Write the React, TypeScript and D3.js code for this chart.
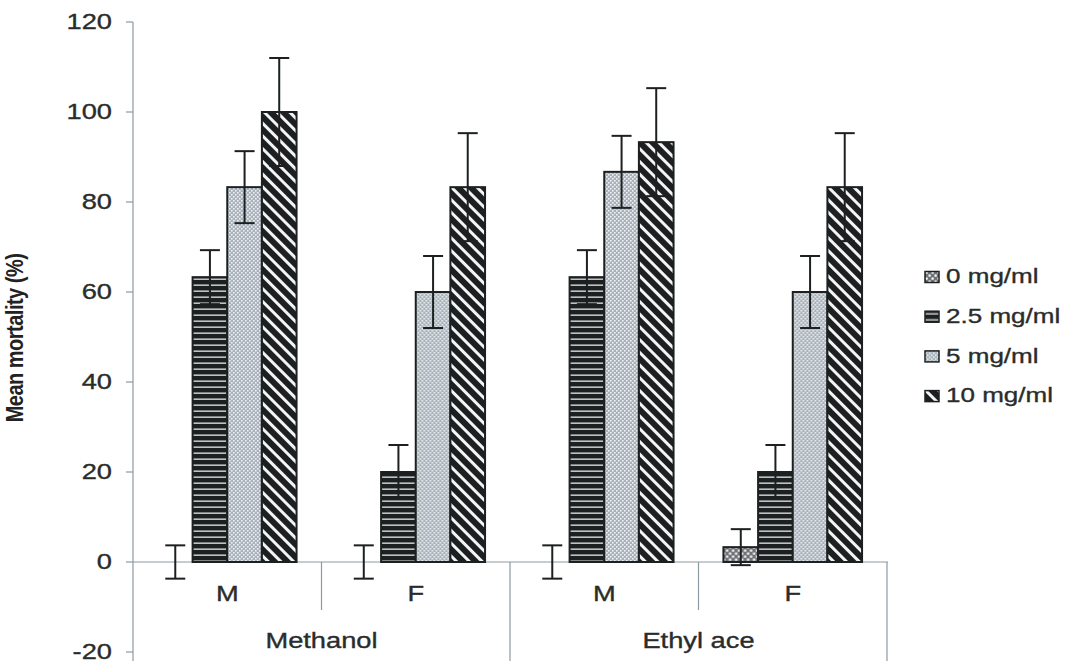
import React from "react";
import * as d3 from "d3";

// categories along the x axis
const categories = ["MeM", "MeF", "EaM", "EaF"];
const sexLabels = ["M", "F", "M", "F"];
const groupLabels = ["Methanol", "Ethyl ace"];
const series = ["0 mg/ml", "2.5 mg/ml", "5 mg/ml", "10 mg/ml"];

// mean mortality (%) per category, one value per series
const meansMeM = [0, 63.3, 83.3, 100];
const meansMeF = [0, 20, 60, 83.3];
const meansEaM = [0, 63.3, 86.7, 93.3];
const meansEaF = [3.3, 20, 60, 83.3];

// error (+/-) per category
const errMeM = [3.7, 6, 8, 12];
const errMeF = [3.7, 6, 8, 12];
const errEaM = [3.7, 6, 8, 12];
const errEaF = [4, 6, 8, 12];

const yTicks = [-20, 0, 20, 40, 60, 80, 100, 120];

const means = [meansMeM, meansMeF, meansEaM, meansEaF];
const errs = [errMeM, errMeF, errEaM, errEaF];

const fills = ["url(#p0)", "url(#p25)", "url(#p5)", "url(#p10)"];

const font = "'Liberation Sans', Arial, sans-serif";
const stretch = 1.24; // the scanned figure is wider than tall

function T({ x, y, anchor = "middle", size = 22, children }: any) {
  return (
    <text
      transform={`translate(${x},${y}) scale(${stretch},1)`}
      dy="0.35em"
      textAnchor={anchor}
      fontFamily={font}
      fontSize={size}
      fill="#2a2c2c"
      stroke="#2a2c2c"
      strokeWidth={0.35}
    >
      {children}
    </text>
  );
}

export default function App() {
  const width = 1091;
  const height = 661;

  const y = d3.scaleLinear().domain([-20, 120]).range([652, 22]);
  const x0 = d3.scaleBand().domain(categories).range([133, 887]).padding(0);
  const x1 = d3
    .scaleBand()
    .domain(series)
    .range([0, x0.bandwidth()])
    .paddingInner(0)
    .paddingOuter(0.72);

  const axisColor = "#8e9aa2";
  const ink = "#1c2020";

  return (
    <div style={{ position: "absolute", left: 0, top: 0 }}>
      <svg width={width} height={height} style={{ display: "block", background: "#fff" }}>
        <defs>
          <pattern id="p0" width="6" height="6" patternUnits="userSpaceOnUse">
            <rect width="6" height="6" fill="#6f7377" />
            <rect x="0.5" y="0.5" width="2.2" height="2.2" fill="#fff" />
            <rect x="3.5" y="3.5" width="2.2" height="2.2" fill="#fff" />
          </pattern>
          <pattern id="p25" width="6" height="6" patternUnits="userSpaceOnUse">
            <rect width="6" height="6" fill={ink} />
            <rect x="0" y="2.5" width="6" height="1.3" fill="#e4e8ea" />
          </pattern>
          <pattern id="p5" width="4" height="4" patternUnits="userSpaceOnUse">
            <rect width="4" height="4" fill="#a9b2ba" />
            <rect x="0" y="0" width="1.6" height="1.6" fill="#eef1f3" />
            <rect x="2" y="2" width="1.6" height="1.6" fill="#eef1f3" />
          </pattern>
          <pattern
            id="p10"
            width="9"
            height="9"
            patternUnits="userSpaceOnUse"
            patternTransform="rotate(45)"
          >
            <rect width="9" height="9" fill={ink} />
            <rect x="0" y="3" width="9" height="3" fill="#f2f4f5" />
          </pattern>
        </defs>

        {/* y axis */}
        <line x1={133} x2={133} y1={22} y2={661} stroke={axisColor} strokeWidth={1.2} />
        {yTicks.map((t) => (
          <g key={t}>
            <line x1={126} x2={133} y1={y(t)} y2={y(t)} stroke={axisColor} strokeWidth={1.2} />
            <T x={112} y={y(t) - 1} anchor="end">
              {t}
            </T>
          </g>
        ))}

        <text
          transform={`translate(23,338) scale(${stretch},1) rotate(-90)`}
          textAnchor="middle"
          fontFamily={font}
          fontWeight="bold"
          fontSize={20}
          letterSpacing={-0.5}
          fill="#222"
        >
          Mean mortality (%)
        </text>

        {/* zero line and category separators */}
        <line x1={133} x2={888} y1={y(0)} y2={y(0)} stroke={axisColor} strokeWidth={1.2} />
        {categories.map((c, i) => {
          const xr = (x0(c) as number) + x0.bandwidth();
          const outer = i % 2 === 1;
          return (
            <line
              key={c}
              x1={xr}
              x2={xr}
              y1={y(0)}
              y2={outer ? 661 : 610}
              stroke={axisColor}
              strokeWidth={1.2}
            />
          );
        })}

        {/* bars */}
        {categories.map((c, ci) => (
          <g key={c} transform={`translate(${x0(c)},0)`}>
            {series.map((s, si) => {
              const v = means[ci][si];
              if (v <= 0) return null;
              return (
                <rect
                  key={s}
                  x={x1(s)}
                  y={y(v)}
                  width={x1.bandwidth()}
                  height={y(0) - y(v)}
                  fill={fills[si]}
                  stroke={ink}
                  strokeWidth={2}
                />
              );
            })}
            {series.map((s, si) => {
              const v = means[ci][si];
              const e = errs[ci][si];
              const cx = (x1(s) as number) + x1.bandwidth() / 2;
              return (
                <g key={s} stroke={ink} strokeWidth={2}>
                  <line x1={cx} x2={cx} y1={y(v + e)} y2={y(v - e)} />
                  <line x1={cx - 10} x2={cx + 10} y1={y(v + e)} y2={y(v + e)} />
                  <line x1={cx - 10} x2={cx + 10} y1={y(v - e)} y2={y(v - e)} />
                </g>
              );
            })}
            <T x={x0.bandwidth() / 2} y={593}>
              {sexLabels[ci]}
            </T>
          </g>
        ))}

        {groupLabels.map((g, gi) => {
          const cx = (x0(categories[gi * 2]) as number) + x0.bandwidth();
          return (
            <T key={g} x={cx} y={640}>
              {g}
            </T>
          );
        })}

        {/* legend */}
        {series.map((s, si) => (
          <g key={s} transform={`translate(925,${277 + si * 39.7})`}>
            <rect x={0} y={-5.5} width={14} height={11} fill={fills[si]} stroke={ink} strokeWidth={1.5} />
            <T x={21} y={-1} anchor="start" size={21}>
              {s}
            </T>
          </g>
        ))}
      </svg>
    </div>
  );
}
